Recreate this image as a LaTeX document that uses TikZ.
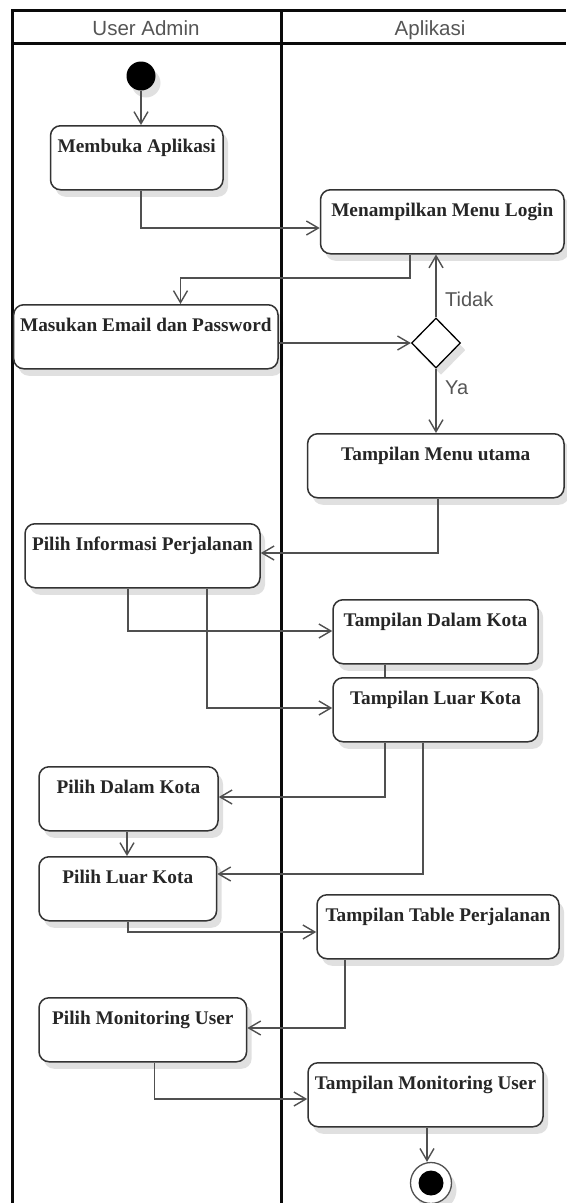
\documentclass[tikz,border=0pt]{standalone}
\usepackage{fontspec}
\setmainfont{Liberation Serif}
\newfontfamily\lanefont{Liberation Sans}
\usetikzlibrary{arrows.meta,shapes.geometric,shadows}
\definecolor{frameline}{HTML}{0A0A0A}
\definecolor{flowline}{HTML}{505050}
\definecolor{boxline}{HTML}{333333}
\definecolor{boxtext}{HTML}{262626}
\definecolor{labeltext}{HTML}{555555}

\begin{document}
\begin{tikzpicture}[x=1pt,y=-1pt,
  lane/.style={line width=3pt, draw=frameline},
  softshadow/.style={drop shadow={shadow xshift=5pt, shadow yshift=-7pt, opacity=0.12, fill=black}},
  act/.style={draw=boxline, line width=1.5pt, rounded corners=10pt, fill=white,
    inner xsep=0pt, inner ysep=0pt, text height=27pt, text depth=37pt, anchor=north,
    font=\fontsize{19.3}{22}\selectfont\bfseries, text=boxtext, softshadow},
  flow/.style={draw=flowline, line width=1.4pt, -{Straight Barb[length=12pt,width=14pt]}},
  plainline/.style={draw=flowline, line width=1.4pt},
  headtext/.style={font=\lanefont\fontsize{20.5}{24}\selectfont, text=labeltext,
    text height=15pt, text depth=0pt, inner sep=0pt, anchor=base},
  guard/.style={font=\lanefont\fontsize{20}{24}\selectfont, text=labeltext, anchor=west, inner sep=0pt},
]
\useasboundingbox (0,0) rectangle (566,1203);

% swimlane frame
\draw[lane] (12.7,1203) -- (12.7,10) -- (566,10);
\draw[lane] (12.7,43) -- (566,43);
\draw[lane] (281,10) -- (281,1203);
\node[headtext] (hUser) at (146,35.5) {User Admin};
\node[headtext] (hApp) at (430,35.5) {Aplikasi};

% activities
\node[circle, fill=black, minimum size=29pt, inner sep=0pt, softshadow] (start) at (141,76) {};
\node[act, minimum width=172.5pt] (open) at (136.75,125) {Membuka Aplikasi};
\node[act, minimum width=243.5pt] (login) at (442.25,189) {Menampilkan Menu Login};
\node[act, minimum width=264.3pt] (email) at (145.85,304) {Masukan Email dan Password};
\node[diamond, draw=black, line width=1.3pt, fill=white, minimum width=49pt, minimum height=50pt,
  inner sep=0pt, softshadow] (dec) at (436,343) {};
\node[act, minimum width=256.4pt] (menu) at (435.8,433) {Tampilan Menu utama};
\node[act, minimum width=235pt] (info) at (142.5,523) {Pilih Informasi Perjalanan};
\node[act, minimum width=205pt] (tdalam) at (435.5,599) {Tampilan Dalam Kota};
\node[act, minimum width=205pt] (tluar) at (435.5,677) {Tampilan Luar Kota};
\node[act, minimum width=179pt] (pdalam) at (128.5,766) {Pilih Dalam Kota};
\node[act, minimum width=177.6pt] (pluar) at (127.8,856) {Pilih Luar Kota};
\node[act, minimum width=242pt] (table) at (438,894) {Tampilan Table Perjalanan};
\node[act, minimum width=207.6pt] (pmon) at (142.8,997) {Pilih Monitoring User};
\node[act, minimum width=235pt] (tmon) at (425.5,1062) {Tampilan Monitoring User};
\node[circle, draw=flowline, line width=1.3pt, fill=white, minimum size=41pt, inner sep=0pt, softshadow] (finish) at (431,1183) {};
\node[circle, fill=black, minimum size=25pt, inner sep=0pt] (finishdot) at (finish) {};

% control flow
\draw[flow] (start.south) -- (open.north -| start.south);
\draw[flow] (open.south -| 141,0) |- (login.west |- 0,228);
\draw[flow] (login.south -| 410,0) |- (180.5,278) -- (email.north -| 180.5,0);
\draw[flow] (email.east |- dec.west) -- (dec.west);
\draw[flow] (dec.north) -- (login.south -| dec.north);
\node[guard] (tidak) at (445,299) {Tidak};
\draw[flow] (dec.south) -- (menu.north -| dec.south);
\node[guard] (ya) at (445,388) {Ya};
\draw[flow] (menu.south -| 438,0) |- (info.east |- 0,553);
\draw[flow] (info.south -| 128,0) |- (tdalam.west |- 0,631);
\draw[flow] (info.south -| 207,0) |- (tluar.west |- 0,708);
\draw[plainline] (tdalam.south -| 385,0) -- (tluar.north -| 385,0);
\draw[flow] (tluar.south -| 385,0) |- (pdalam.east |- 0,797);
\draw[flow] (tluar.south -| 423,0) |- (pluar.east |- 0,874);
\draw[flow] (pdalam.south -| 127,0) -- (pluar.north -| 127,0);
\draw[flow] (pluar.south -| 128,0) |- (table.west |- 0,932);
\draw[flow] (table.south -| 345,0) |- (pmon.east |- 0,1028);
\draw[flow] (pmon.south -| 154.5,0) |- (tmon.west |- 0,1099);
\draw[flow] (tmon.south -| 427,0) -- (finish.north -| 427,0);
\end{tikzpicture}
\end{document}
